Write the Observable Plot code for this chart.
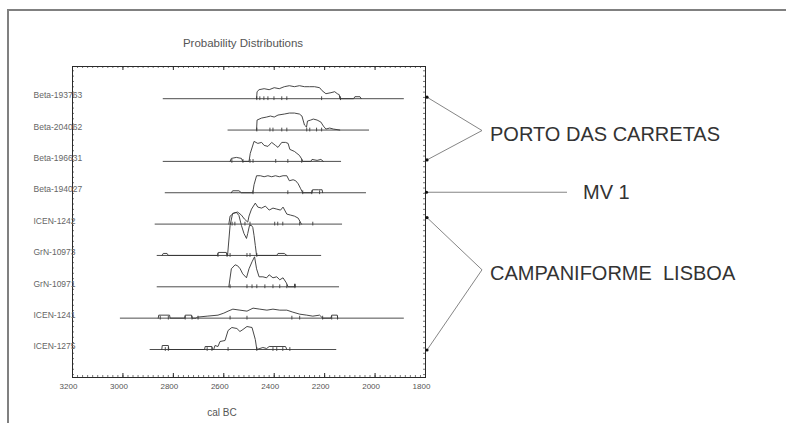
<!DOCTYPE html>
<html>
<head>
<meta charset="utf-8">
<script src="https://cdn.jsdelivr.net/npm/d3@7"></script>
<script src="https://cdn.jsdelivr.net/npm/@observablehq/plot@0.6"></script>
<style>
html,body{margin:0;padding:0;background:#fff;}
#wrap{position:relative;width:786px;height:423px;overflow:hidden;background:#fff;}
#border{position:absolute;left:7px;top:9px;width:790px;height:420px;border-top:2px solid #808080;border-left:2px solid #808080;pointer-events:none;}
svg{display:block;}
</style>
</head>
<body>
<div id="wrap"><div id="border"></div></div>
<script>
// ---- data (years cal BC, relative probability) ----
const samples = ["Beta-193763","Beta-204062","Beta-196631","Beta-194027","ICEN-1242","GrN-10973","GrN-10971","ICEN-1241","ICEN-1275"];
const majorTicks = [3200,3000,2800,2600,2400,2200,2000,1800];
const baselineStart = [2840,2583,2840,2832,2872,2864,2864,3010,2892];
const baselineEnd   = [1884,2022,2133,2034,2129,2212,2141,1884,2152];

const dist_Beta193763 = [[2470,0],[2468,7],[2460,9],[2440,10],[2420,9],[2400,11],[2380,10],[2360,12],[2340,13],[2320,12],[2300,13],[2280,12],[2260,12],[2240,12],[2220,11],[2210,8],[2195,5],[2175,6],[2160,7],[2150,5],[2142,4],[2140,0],[2085,0],[2080,2],[2060,2],[2055,0]];
const dist_Beta204062 = [[2470,0],[2468,10],[2450,12],[2430,13],[2415,14],[2400,13],[2385,15],[2360,16],[2340,17],[2320,17],[2300,16],[2290,14],[2280,5],[2272,3],[2268,9],[2255,10],[2245,11],[2230,10],[2215,8],[2205,4],[2195,1],[2180,2],[2165,1],[2140,0]];
const dist_Beta196631 = [[2575,0],[2570,3],[2550,4],[2530,3],[2525,0],[2500,0],[2495,8],[2480,20],[2465,18],[2450,19],[2440,16],[2425,15],[2410,19],[2395,16],[2385,14],[2370,19],[2355,19],[2345,18],[2338,12],[2320,10],[2310,8],[2300,6],[2290,2],[2287,0],[2255,0],[2250,2],[2230,1],[2215,2],[2205,0]];
const dist_Beta194027 = [[2570,0],[2565,2],[2540,2],[2530,0],[2485,0],[2480,8],[2470,17],[2455,17],[2440,16],[2425,17],[2410,16],[2395,17],[2380,16],[2365,17],[2350,17],[2340,12],[2325,13],[2315,12],[2305,9],[2295,4],[2287,0],[2250,0],[2248,3],[2225,3],[2210,3],[2208,0]];
const dist_ICEN1242 = [[2580,0],[2575,8],[2560,11],[2545,12],[2530,9],[2518,5],[2505,2],[2500,8],[2490,15],[2475,21],[2465,17],[2450,16],[2435,18],[2420,14],[2405,16],[2390,15],[2375,14],[2365,17],[2350,10],[2335,9],[2320,8],[2305,6],[2292,0]];
const dist_GrN10973 = [[2845,0],[2840,2],[2825,2],[2820,0],[2625,0],[2622,3],[2590,3],[2587,0],[2585,0],[2575,30],[2565,42],[2550,43],[2540,40],[2530,30],[2520,22],[2510,17],[2505,22],[2498,30],[2490,30],[2485,28],[2480,20],[2475,10],[2470,0],[2390,0],[2385,2],[2360,2],[2350,0]];
const dist_GrN10971 = [[2580,0],[2570,18],[2555,22],[2545,21],[2535,18],[2525,13],[2510,9],[2500,18],[2488,25],[2478,30],[2470,18],[2460,10],[2445,10],[2430,9],[2420,12],[2405,9],[2390,10],[2378,7],[2365,9],[2352,4],[2345,0],[2320,0],[2318,3],[2316,0]];
const dist_ICEN1241 = [[2860,0],[2858,3],[2815,3],[2813,0],[2755,0],[2753,3],[2728,3],[2726,0],[2710,0],[2706,1],[2666,2],[2623,3],[2600,5],[2583,7],[2564,9],[2536,8],[2508,7],[2484,10],[2457,9],[2429,8],[2405,9],[2378,8],[2350,8],[2326,6],[2299,4],[2271,3],[2247,2],[2220,3],[2208,0],[2175,0],[2172,3],[2150,3],[2148,0]];
const dist_ICEN1275 = [[2846,0],[2844,4],[2820,4],[2818,0],[2676,0],[2674,3],[2647,3],[2645,0],[2640,0],[2635,4],[2623,3],[2615,8],[2595,9],[2583,19],[2568,22],[2548,21],[2536,18],[2524,20],[2508,23],[2488,22],[2475,10],[2469,0],[2445,2],[2430,1],[2420,3],[2355,3],[2350,0]];

const marks_Beta193763 = [2469,2457,2441,2425,2401,2370,2350,2212,2137];
const marks_Beta204062 = [2469,2417,2405,2370,2350,2271,2259,2232,2212];
const marks_Beta196631 = [2568,2524,2496,2484,2394,2346,2291];
const marks_Beta194027 = [2484,2346,2287,2251,2220];
const marks_ICEN1242 = [2567,2556,2516,2496,2398,2386,2366,2299,2247];
const marks_GrN10973 = [2623,2587,2575,2508,2496,2469];
const marks_GrN10971 = [2575,2508,2488,2469,2437,2405,2378,2350,2318];
const marks_ICEN1241 = [2852,2820,2753,2726,2702,2575,2508,2330,2299,2208,2172,2149];
const marks_ICEN1275 = [2832,2820,2666,2647,2583,2469,2405,2390,2366,2338];

const groupLabels = ["PORTO DAS CARRETAS","MV 1","CAMPANIFORME  LISBOA"];
const groupFirst = [0,3,4];
const groupLast  = [2,3,8];

// ---- assembly ----
const distributions = [dist_Beta193763,dist_Beta204062,dist_Beta196631,dist_Beta194027,dist_ICEN1242,dist_GrN10973,dist_GrN10971,dist_ICEN1241,dist_ICEN1275];
const rangeMarks = [marks_Beta193763,marks_Beta204062,marks_Beta196631,marks_Beta194027,marks_ICEN1242,marks_GrN10973,marks_GrN10971,marks_ICEN1241,marks_ICEN1275];

const n = samples.length;
const rowValue = i => n - 1 - i;
const k = 1 / 31.35;
const W = 786, H = 423, mT = 66, mB = 46, mL = 72, mR = 361;
const fh = H - mT - mB, fw = W - mL - mR;
const yDomain = [-0.893, 9.027];

const curveData = distributions.flatMap((d, i) => d.map(([year, p]) => ({row: i, year, y: rowValue(i) + p * k})));
const baseData = samples.map((s, i) => ({s, x1: baselineStart[i], x2: baselineEnd[i], y: rowValue(i)}));
const markData = rangeMarks.flatMap((m, i) => m.map(year => ({year, y: rowValue(i)})));
const minorX = d3.range(1800, 3201, 20);
const minorY = d3.range(-0.8, 9.0, 0.17);

const ink = "#2a2a2a";
const chart = Plot.plot({
  width: W, height: H, marginTop: mT, marginBottom: mB, marginLeft: mL, marginRight: mR,
  x: {domain: [3200, 1800], axis: null},
  y: {domain: yDomain, axis: null},
  style: {fontFamily: "'Liberation Sans', Arial, sans-serif", background: "transparent", overflow: "visible"},
  marks: [
    Plot.tickX(minorX, {insetTop: fh - 2, stroke: "#555", strokeWidth: 0.8}),
    Plot.tickX(minorX, {insetBottom: fh - 2, stroke: "#555", strokeWidth: 0.8}),
    Plot.tickX(majorTicks, {insetTop: fh - 4, stroke: ink}),
    Plot.tickX(majorTicks, {insetBottom: fh - 4, stroke: ink}),
    Plot.tickY(minorY, {insetRight: fw - 2, stroke: "#555", strokeWidth: 0.8}),
    Plot.tickY(minorY, {insetLeft: fw - 2, stroke: "#555", strokeWidth: 0.8}),
    Plot.frame({stroke: ink, strokeWidth: 1}),
    Plot.ruleY(baseData, {y: "y", x1: "x1", x2: "x2", stroke: "#3a3a3a", strokeWidth: 0.9}),
    Plot.ruleX(markData, {x: "year", y1: d => d.y - 0.06, y2: d => d.y + 0.06, stroke: "#3a3a3a", strokeWidth: 0.9}),
    Plot.line(curveData, {x: "year", y: "y", z: "row", stroke: "#333", strokeWidth: 0.9}),
    Plot.text(samples, {y: (d, i) => rowValue(i), frameAnchor: "left", textAnchor: "start", lineAnchor: "middle", dx: -39, dy: -3, fontSize: 8.5, fill: "#666"}),
    Plot.axisX({ticks: majorTicks, tickSize: 0, tickPadding: 6, fontSize: 8, color: "#555", dx: -4, tickFormat: d => String(d), label: null}),
    Plot.text(["Probability Distributions"], {frameAnchor: "top", lineAnchor: "middle", dx: -6, dy: -23, fontSize: 11.5, fill: "#555"}),
    Plot.text(["cal BC"], {frameAnchor: "bottom", lineAnchor: "middle", dx: -27, dy: 35, fontSize: 10, fill: "#555"})
  ]
});
const wrap = document.getElementById("wrap");
wrap.insertBefore(chart, wrap.firstChild);

// ---- annotation brackets (layout) ----
const xs = chart.scale("x"), ys = chart.scale("y");
const xr = xs.apply(1800);
const svg = d3.select(chart);
const g = svg.append("g").attr("fill", "none").attr("stroke", "#777").attr("stroke-width", 0.9);
const tipShift = [[-1, -1], [0, 0], [-6, 1]];
const apexShift = [2, 0, -14];
groupLabels.forEach((label, j) => {
  const yTop = ys.apply(rowValue(groupFirst[j])) + tipShift[j][0];
  const yBot = ys.apply(rowValue(groupLast[j])) + tipShift[j][1];
  let tx, ty;
  if (groupFirst[j] === groupLast[j]) {
    g.append("line").attr("x1", xr + 1).attr("y1", yTop).attr("x2", xr + 142).attr("y2", yTop);
    svg.append("circle").attr("cx", xr + 1.5).attr("cy", yTop).attr("r", 1.6).attr("fill", "#111");
    tx = xr + 158; ty = yTop;
  } else {
    const ax = xr + 57, ay = (yTop + yBot) / 2 + apexShift[j];
    g.append("polyline").attr("points", `${xr + 2},${yTop} ${ax},${ay} ${xr + 2},${yBot}`);
    svg.append("circle").attr("cx", xr + 2).attr("cy", yTop).attr("r", 1.6).attr("fill", "#111");
    svg.append("circle").attr("cx", xr + 2).attr("cy", yBot).attr("r", 1.6).attr("fill", "#111");
    tx = ax + 8; ty = ay + 3;
  }
  svg.append("text").attr("x", tx).attr("y", ty).attr("dy", "0.36em")
    .attr("text-anchor", "start")
    .attr("font-size", 20).attr("fill", "#333").attr("font-family", "'Liberation Sans', Arial, sans-serif")
    .attr("xml:space", "preserve").style("white-space", "pre").text(label);
});
</script>
</body>
</html>
